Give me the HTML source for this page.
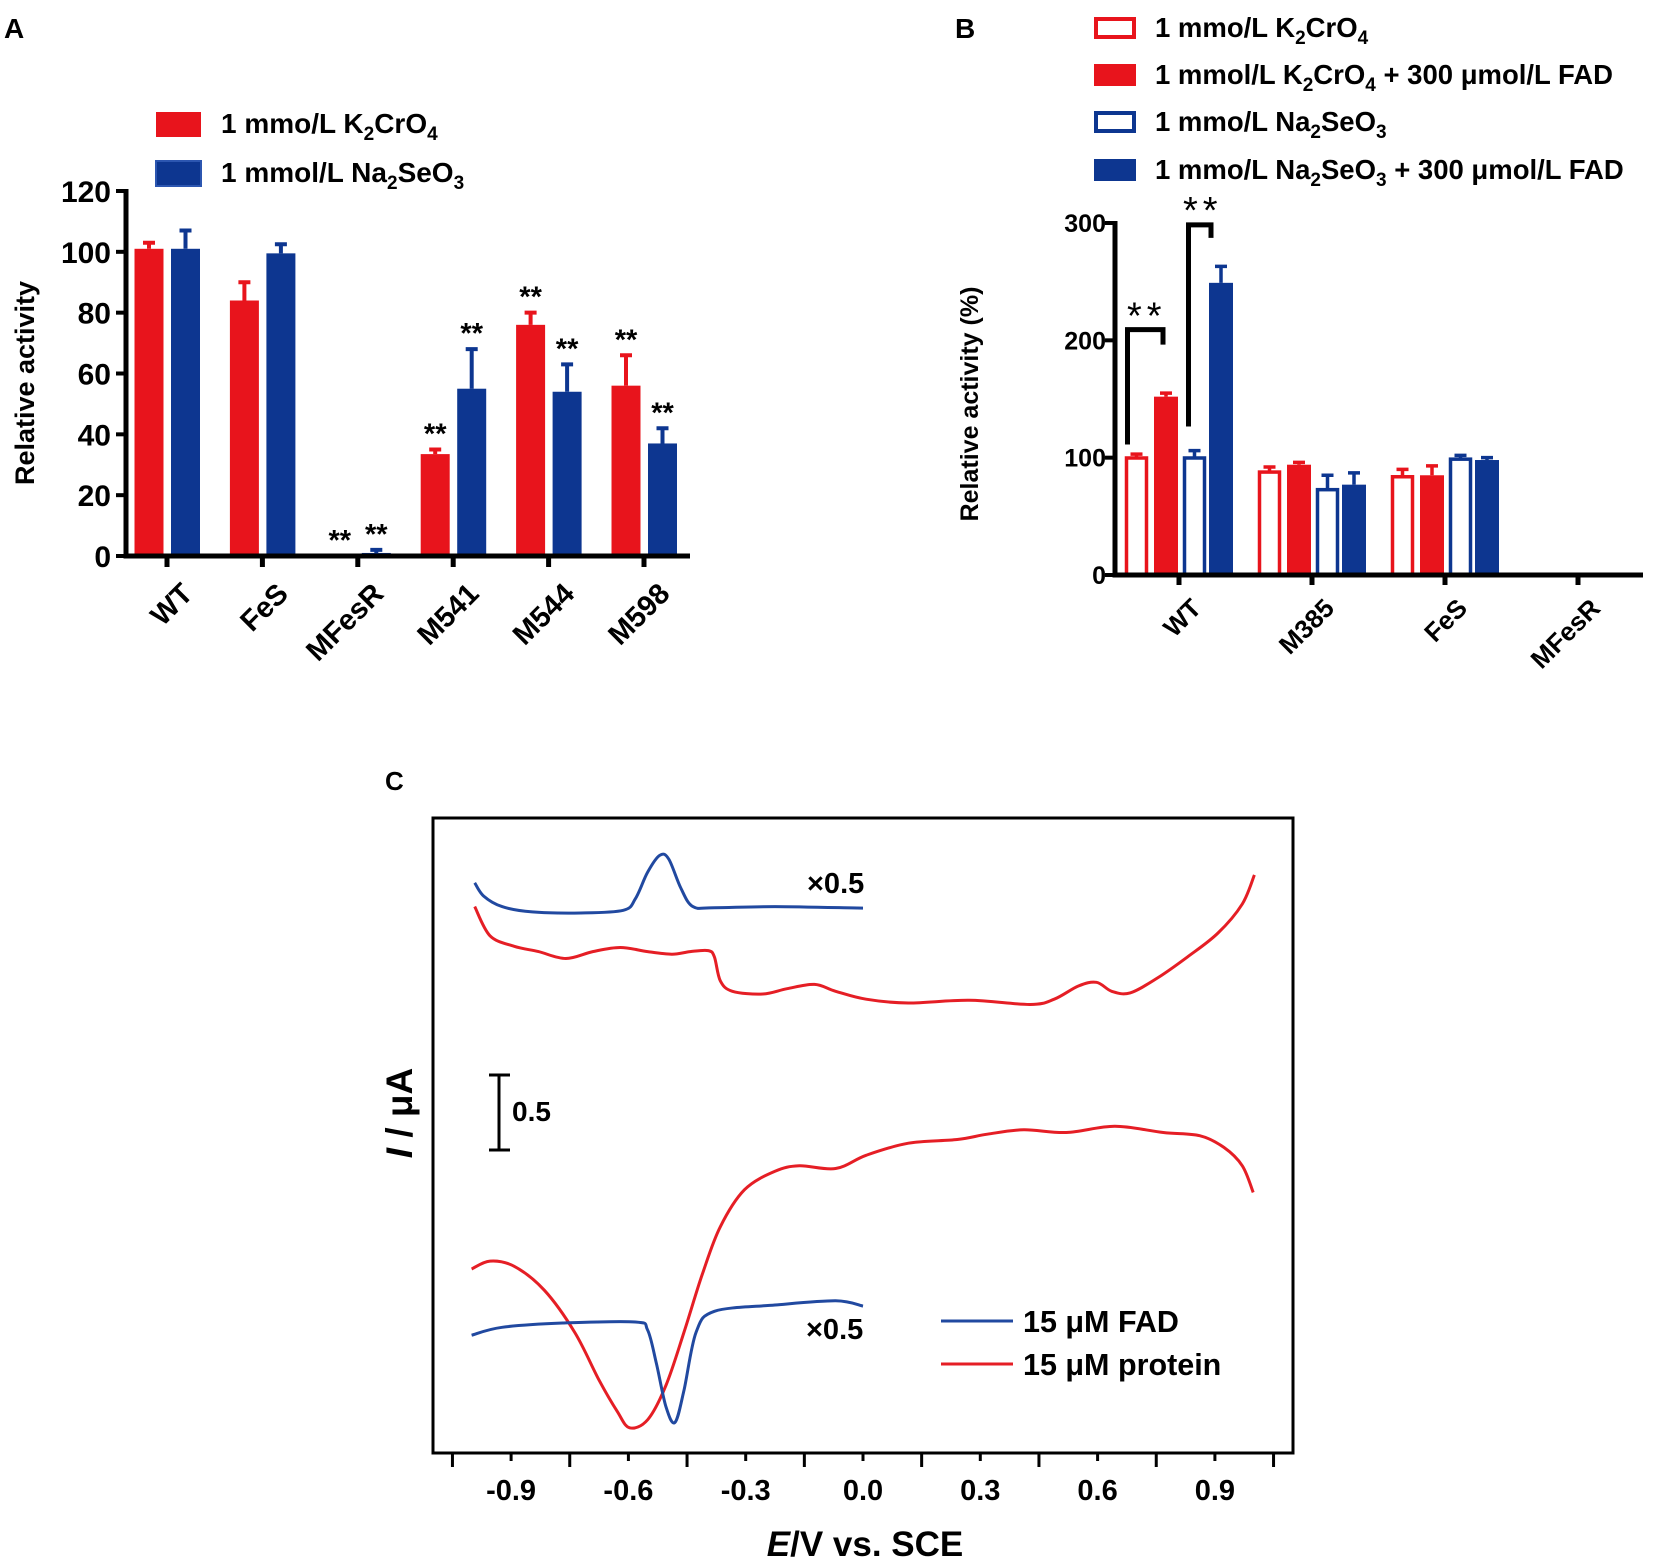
<!DOCTYPE html>
<html><head><meta charset="utf-8"><style>
html,body{margin:0;padding:0;background:#fff;}
svg{display:block;font-family:"Liberation Sans",Arial,sans-serif;}
.b{font-weight:bold;}
</style></head><body>
<svg id="fig" width="1655" height="1566" viewBox="0 0 1655 1566" xmlns="http://www.w3.org/2000/svg">
<g id="pa"></g>
<g id="pb"></g>
<g id="pc"></g>
</svg>
<script>
// ---------- Panel A data ----------
const aCats = ["WT","FeS","MFesR","M541","M544","M598"];
const aRed = [101, 84, 0, 33.5, 76, 56];
const aRedErr = [2, 6, 0, 1.5, 4, 10];
const aBlue = [101, 99.5, 1, 55, 54, 37];
const aBlueErr = [6, 3, 1, 13, 9, 5];
const aRedStars = [false,false,true,true,true,true];
const aBlueStars = [false,false,true,true,true,true];
const aTicks = [0,20,40,60,80,100,120];

// ---------- Panel B data ----------
const bCats = ["WT","M385","FeS","MFesR"];
const bCrOpen = [101, 89, 85, 0];
const bCrOpenErr = [2, 3, 5, 0];
const bCrFad = [152, 94, 85, 0];
const bCrFadErr = [3, 2, 8, 0];
const bSeOpen = [101, 74, 100, 0];
const bSeOpenErr = [5, 11, 2, 0];
const bSeFad = [249, 77, 98, 0.6];
const bSeFadErr = [14, 10, 2, 0];
const bTicks = [0,100,200,300];

// ---------- Panel C data (E in V, I in µA, arbitrary offset) ----------
const cTicks = [-0.9,-0.6,-0.3,0.0,0.3,0.6,0.9];
const fadOxE = [-0.993,-0.970,-0.923,-0.846,-0.722,-0.613,-0.582,-0.551,-0.520,-0.497,-0.466,-0.435,-0.380,-0.225,0];
const fadOxI = [1.448,1.359,1.289,1.254,1.247,1.265,1.342,1.518,1.631,1.607,1.413,1.289,1.282,1.289,1.279];
const protOxE = [-0.993,-0.954,-0.892,-0.830,-0.760,-0.691,-0.621,-0.551,-0.489,-0.442,-0.396,-0.380,-0.365,-0.334,-0.256,-0.194,-0.124,-0.070,0.008,0.116,0.272,0.427,0.489,0.551,0.597,0.636,0.683,0.753,0.830,0.908,0.970,1.001];
const protOxI = [1.289,1.095,1.025,0.989,0.943,0.989,1.017,0.989,0.972,0.989,0.996,0.954,0.795,0.725,0.707,0.742,0.771,0.725,0.672,0.647,0.665,0.637,0.672,0.760,0.785,0.725,0.714,0.813,0.954,1.113,1.307,1.501];
const protRedE = [-1.001,-0.954,-0.892,-0.815,-0.737,-0.675,-0.628,-0.597,-0.551,-0.504,-0.458,-0.411,-0.365,-0.303,-0.225,-0.163,-0.070,0.008,0.116,0.241,0.318,0.411,0.520,0.644,0.768,0.861,0.923,0.970,0.998];
const protRedI = [-1.127,-1.074,-1.109,-1.268,-1.550,-1.868,-2.079,-2.185,-2.132,-1.903,-1.550,-1.162,-0.845,-0.598,-0.475,-0.439,-0.457,-0.369,-0.288,-0.263,-0.228,-0.199,-0.217,-0.175,-0.217,-0.238,-0.316,-0.439,-0.616];
const fadRedE = [-1.001,-0.923,-0.768,-0.582,-0.551,-0.528,-0.504,-0.481,-0.458,-0.427,-0.380,-0.225,-0.070,0];
const fadRedI = [-1.568,-1.515,-1.487,-1.480,-1.533,-1.762,-2.044,-2.150,-1.938,-1.550,-1.409,-1.367,-1.339,-1.374];

const NS = "http://www.w3.org/2000/svg";
const RED = "#e8141c", BLUE = "#0d3690";
function mk(parent, tag, attrs, text){
  const e = document.createElementNS(NS, tag);
  for (const k in attrs) e.setAttribute(k, attrs[k]);
  if (text !== undefined) e.textContent = text;
  parent.appendChild(e);
  return e;
}

// ================= PANEL A =================
(function(){
  const g = document.getElementById('pa');
  const x0 = 126, x1 = 690, y0 = 556, yTop = 191;
  const ay = v => y0 - (v/120)*(y0 - yTop);
  const ax = i => 167 + i*95.4;
  let t = mk(g,'text',{x:4,y:38,'font-size':28,'class':'b'},'A');
   
  let r = mk(g,'rect',{x:156,y:112,width:45,height:25,fill:RED});
   
  t = mk(g,'text',{x:221,y:133,'font-size':28,'class':'b'});
   
  t.innerHTML = '1 mmo/L K<tspan dy="7" font-size="19">2</tspan><tspan dy="-7">CrO</tspan><tspan dy="7" font-size="19">4</tspan>';
  r = mk(g,'rect',{x:156,y:161,width:45,height:25,fill:BLUE,stroke:'#2c56b0','stroke-width':2});
   
  t = mk(g,'text',{x:221,y:182,'font-size':28,'class':'b'});
   
  t.innerHTML = '1 mmol/L Na<tspan dy="7" font-size="19">2</tspan><tspan dy="-7">SeO</tspan><tspan dy="7" font-size="19">3</tspan>';
  function bar(v, e, cx, col, star, name){
    const top = ay(v);
    if (v > 0){
      const b = mk(g,'rect',{x:cx-14.5,y:top,width:29,height:y0-top,fill:col});
       
    }
    if (e > 0 || v > 0){
      const et = ay(v+e);
      const l = mk(g,'path',{d:`M${cx} ${top} V${et} M${cx-6} ${et} H${cx+6}`,stroke:col,'stroke-width':4,fill:'none'});
       
    }
    if (star){
      const s = mk(g,'text',{x:cx,y:ay(v+e)-6,'font-size':29,'class':'b','text-anchor':'middle'},'**');
       
    }
  }
  aCats.forEach((c,i)=>{
    bar(aRed[i], aRedErr[i], ax(i)-18, RED, aRedStars[i], 'bar-k2cro4-'+c.toLowerCase());
    bar(aBlue[i], aBlueErr[i], ax(i)+18.5, BLUE, aBlueStars[i], 'bar-na2seo3-'+c.toLowerCase());
  });
  const ax1 = mk(g,'path',{d:`M${x0} ${yTop-2} V${y0} H${x1}`,stroke:'#000','stroke-width':5,fill:'none'});
   
  aTicks.forEach(v=>{
    mk(g,'line',{x1:x0-10,x2:x0,y1:ay(v),y2:ay(v),stroke:'#000','stroke-width':4});
    const tl = mk(g,'text',{x:x0-15,y:ay(v)+11,'font-size':30,'class':'b','text-anchor':'end'},String(v));
     
  });
  aCats.forEach((c,i)=>{
    mk(g,'line',{x1:ax(i),x2:ax(i),y1:y0,y2:y0+11,stroke:'#000','stroke-width':5});
    const px = ax(i)+12, py = 580;
    const tl = mk(g,'text',{x:px,y:py,'font-size':29,'class':'b','text-anchor':'end',transform:`rotate(-45 ${px} ${py})`,dy:'0.75em'},c);
     
  });
  t = mk(g,'text',{x:0,y:0,'font-size':27,'class':'b','text-anchor':'middle',transform:'translate(34 383) rotate(-90)'},'Relative activity');
   
})();

// ================= PANEL B =================
(function(){
  const g = document.getElementById('pb');
  const x0 = 1115, x1 = 1643, y0 = 575, yTop = 223;
  const by = v => y0 - (v/300)*(y0 - yTop);
  const bx = i => 1179 + i*133;
  let t = mk(g,'text',{x:955,y:38,'font-size':28,'class':'b'},'B');
   
  const leg = [
    {y:17, fill:'#fff', stroke:RED, html:'1 mmo/L K<tspan dy="7" font-size="19">2</tspan><tspan dy="-7">CrO</tspan><tspan dy="7" font-size="19">4</tspan>', n:'k2cro4'},
    {y:64, fill:RED, stroke:RED, html:'1 mmol/L K<tspan dy="7" font-size="19">2</tspan><tspan dy="-7">CrO</tspan><tspan dy="7" font-size="19">4</tspan><tspan dy="-7"> + 300 μmol/L FAD</tspan>', n:'k2cro4-fad'},
    {y:111, fill:'#fff', stroke:BLUE, html:'1 mmo/L Na<tspan dy="7" font-size="19">2</tspan><tspan dy="-7">SeO</tspan><tspan dy="7" font-size="19">3</tspan>', n:'na2seo3'},
    {y:159, fill:BLUE, stroke:BLUE, html:'1 mmo/L Na<tspan dy="7" font-size="19">2</tspan><tspan dy="-7">SeO</tspan><tspan dy="7" font-size="19">3</tspan><tspan dy="-7"> + 300 μmol/L FAD</tspan>', n:'na2seo3-fad'}
  ];
  leg.forEach(l=>{
    const r = mk(g,'rect',{x:1096,y:l.y+2,width:38,height:18,fill:l.fill,stroke:l.stroke,'stroke-width':4});
     
    const tx = mk(g,'text',{x:1155,y:l.y+20,'font-size':27.5,'class':'b'});
     
    tx.innerHTML = l.html;
  });
  const series = [
    {v:bCrOpen,e:bCrOpenErr,off:-42.5,col:RED,open:true,n:'k2cro4'},
    {v:bCrFad,e:bCrFadErr,off:-13,col:RED,open:false,n:'k2cro4-fad'},
    {v:bSeOpen,e:bSeOpenErr,off:15.5,col:BLUE,open:true,n:'na2seo3'},
    {v:bSeFad,e:bSeFadErr,off:42,col:BLUE,open:false,n:'na2seo3-fad'}
  ];
  series.forEach(s=>{
    bCats.forEach((c,i)=>{
      const v = s.v[i], cx = bx(i)+s.off, top = by(v);
      if (v <= 0) return;
      let b;
      if (s.open) b = mk(g,'rect',{x:cx-10,y:top+1.5,width:20,height:Math.max(0,y0-top-1.5),fill:'#fff',stroke:s.col,'stroke-width':3.5});
      else b = mk(g,'rect',{x:cx-12,y:top,width:24,height:y0-top,fill:s.col});
       
      if (s.e[i] > 0){
        const et = by(v+s.e[i]);
        const l = mk(g,'path',{d:`M${cx} ${top} V${et} M${cx-6} ${et} H${cx+6}`,stroke:s.col,'stroke-width':3.5,fill:'none'});
         
      }
    });
  });
  const xa = bx(0)+series[0].off-9, xb = bx(0)+series[1].off;
  let p = mk(g,'path',{d:`M${xa} ${by(bCrOpen[0])-12} V${by(bCrFad[0])-67} H${xb-3} V${by(bCrFad[0])-52}`,stroke:'#000','stroke-width':5,fill:'none'});
   
  t = mk(g,'text',{x:(xa+xb)/2,y:by(bCrFad[0])-68,'font-size':38,'text-anchor':'middle','letter-spacing':5},'**');
   
  const xc = bx(0)+series[2].off-6, xd = bx(0)+series[3].off-10;
  p = mk(g,'path',{d:`M${xc} ${by(bSeOpen[0])-30} V${by(bSeFad[0])-58} H${xd} V${by(bSeFad[0])-45}`,stroke:'#000','stroke-width':5,fill:'none'});
   
  t = mk(g,'text',{x:(xc+xd)/2+3,y:by(bSeFad[0])-60,'font-size':38,'text-anchor':'middle','letter-spacing':5},'**');
   
  const axp = mk(g,'path',{d:`M${x0} ${yTop-2} V${y0} H${x1}`,stroke:'#000','stroke-width':5,fill:'none'});
   
  bTicks.forEach(v=>{
    mk(g,'line',{x1:x0-10,x2:x0,y1:by(v),y2:by(v),stroke:'#000','stroke-width':4});
    const tl = mk(g,'text',{x:x0-9,y:by(v)+9,'font-size':25,'class':'b','text-anchor':'end'},String(v));
     
  });
  bCats.forEach((c,i)=>{
    mk(g,'line',{x1:bx(i),x2:bx(i),y1:y0,y2:y0+10,stroke:'#000','stroke-width':5});
    const px = bx(i)+10, py = 596;
    const tl = mk(g,'text',{x:px,y:py,'font-size':26,'class':'b','text-anchor':'end',transform:`rotate(-45 ${px} ${py})`,dy:'0.75em'},c);
     
  });
  t = mk(g,'text',{x:0,y:0,'font-size':25,'class':'b','text-anchor':'middle',transform:'translate(978 404) rotate(-90)'},'Relative activity (%)');
   
})();

// ================= PANEL C =================
(function(){
  const g = document.getElementById('pc');
  const L = 433, T = 818, R = 1293, B = 1453;
  const cx = e => 863 + e*391;
  const cy = i => 1100 - i*150;
  let t = mk(g,'text',{x:385,y:790,'font-size':26,'class':'b'},'C');
   
  const box = mk(g,'rect',{x:L,y:T,width:R-L,height:B-T,fill:'none',stroke:'#000','stroke-width':3});
   
  for (let k=-7;k<=7;k++){
    const e = k*0.15, x = cx(e);
    const major = (k % 2 !== 0);
    mk(g,'line',{x1:x,x2:x,y1:B,y2:B+(major?14:8),stroke:'#000','stroke-width':3});
  }
  cTicks.forEach(v=>{
    const tl = mk(g,'text',{x:cx(v),y:1500,'font-size':29,'class':'b','text-anchor':'middle'},v.toFixed(1));
     
  });
  function path(E, I){
    const pts = E.map((e,i)=>[cx(e), cy(I[i])]);
    let d = `M${pts[0][0].toFixed(1)} ${pts[0][1].toFixed(1)}`;
    for (let i=0;i<pts.length-1;i++){
      const p0 = pts[Math.max(0,i-1)], p1 = pts[i], p2 = pts[i+1], p3 = pts[Math.min(pts.length-1,i+2)];
      const c1 = [p1[0]+(p2[0]-p0[0])/6, p1[1]+(p2[1]-p0[1])/6];
      const c2 = [p2[0]-(p3[0]-p1[0])/6, p2[1]-(p3[1]-p1[1])/6];
      d += ` C${c1[0].toFixed(1)} ${c1[1].toFixed(1)} ${c2[0].toFixed(1)} ${c2[1].toFixed(1)} ${p2[0].toFixed(1)} ${p2[1].toFixed(1)}`;
    }
    return d;
  }
  let p = mk(g,'path',{d:path(fadOxE,fadOxI),stroke:'#2149a0','stroke-width':3,fill:'none'});
   
  p = mk(g,'path',{d:path(protOxE,protOxI),stroke:'#e51e25','stroke-width':3,fill:'none'});
   
  p = mk(g,'path',{d:path(protRedE,protRedI),stroke:'#e51e25','stroke-width':3,fill:'none'});
   
  p = mk(g,'path',{d:path(fadRedE,fadRedI),stroke:'#2149a0','stroke-width':3,fill:'none'});
   
  const sb = mk(g,'path',{d:'M499 1075 V1150 M489 1075 H510 M489 1150 H510',stroke:'#000','stroke-width':3,fill:'none'});
   
  t = mk(g,'text',{x:512,y:1121,'font-size':28,'class':'b'},'0.5');
   
  t = mk(g,'text',{x:807,y:893,'font-size':29,'class':'b'},'×0.5');
   
  t = mk(g,'text',{x:806,y:1339,'font-size':29,'class':'b'},'×0.5');
   
  mk(g,'line',{x1:941,x2:1013,y1:1321,y2:1321,stroke:'#2149a0','stroke-width':3});
  t = mk(g,'text',{x:1023,y:1332,'font-size':30.5,'class':'b'},'15 μM FAD');
   
  mk(g,'line',{x1:941,x2:1013,y1:1364,y2:1364,stroke:'#e51e25','stroke-width':3});
  t = mk(g,'text',{x:1023,y:1375,'font-size':30.5,'class':'b'},'15 μM protein');
   
  t = mk(g,'text',{x:865,y:1556,'font-size':35,'class':'b','text-anchor':'middle'});
  t.innerHTML = '<tspan font-style="italic">E</tspan>/V vs. SCE';
   
  t = mk(g,'text',{x:0,y:0,'font-size':37,'class':'b','text-anchor':'middle',transform:'translate(412 1113) rotate(-90)'});
  t.innerHTML = '<tspan font-style="italic">I</tspan> / μA';
   
})();
</script>
</body></html>
